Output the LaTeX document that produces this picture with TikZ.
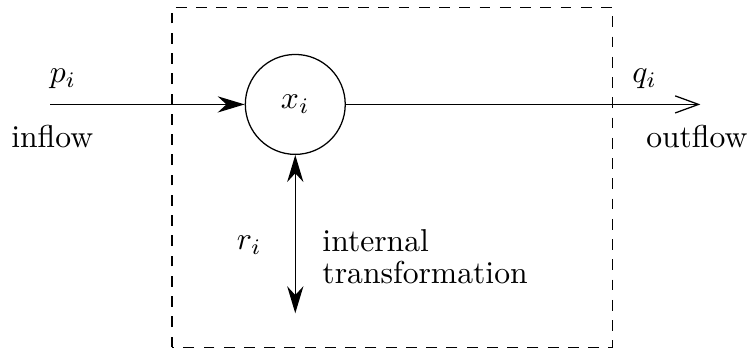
\documentclass[tikz,border=0pt]{standalone}
\usepackage{amsmath,amssymb}
\usepackage{tikz}
\usetikzlibrary{arrows.meta,calc}

\tikzset{
  flow/.style={thin},
  txt/.style={inner sep=1pt},
  boundary/.style={dash pattern=on 3.4pt off 3pt},
}

\begin{document}
\begin{tikzpicture}
      \useasboundingbox (0,0) rectangle (8.32,3.88);
            % system boundary
            \draw[boundary] (1.91,0.02) rectangle (6.8,3.8);
            \node[draw,circle,minimum size=1.11cm,inner sep=0pt] (x) at (3.28,2.72) {$x_i$};
            \coordinate (in) at (0.56,2.72);
            \coordinate (out) at (7.78,2.72);
            \coordinate (rb) at (3.28,0.4);
            \draw[flow,-{Stealth[length=3mm,width=1.8mm]}] (in) to (x.west);
            \draw[flow,-{Straight Barb[length=2.6mm,width=1.9mm]}] (x.east) to (out);
            \draw[flow,{Stealth[length=3mm,width=1.8mm]}-{Stealth[length=3mm,width=1.8mm]}] (x.south) to (rb);
             \node[txt] (p) at (0.7,3.0) {$p_i$};
             \node[txt] (inflow) at (0.58,2.36) {inflow};
             \node[txt] (q) at (7.16,3.0) {$q_i$};
             \node[txt] (outflow) at (7.74,2.36) {outflow};
             \node[txt] (r) at (2.77,1.16) {$r_i$};
             \node[txt,anchor=west,align=left] (tr) at (3.54,1.03) {internal\\[-2pt]transformation};
      \end{tikzpicture}
\end{document}
